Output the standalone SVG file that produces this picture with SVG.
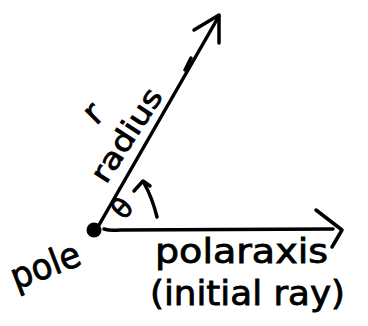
<svg xmlns="http://www.w3.org/2000/svg" width="368" height="326" viewBox="0 0 368 326">
<style>
.ln{fill:none;stroke:#000;stroke-width:3.5;stroke-linecap:round;stroke-linejoin:round}
.t{font-family:"DejaVu Sans",sans-serif;fill:#000;stroke:#000;stroke-width:0.8}
</style>
<rect width="368" height="326" fill="#fff"/>
<g id="pole">
<circle cx="94" cy="230" r="7.5" fill="#000"/>
<text class="t" font-size="36" transform="translate(16 290) rotate(-21)" textLength="72" lengthAdjust="spacingAndGlyphs">pole</text>
</g>
<g id="connectors">
<path class="ln" d="M99 225 L219 16"/>
<path class="ln" d="M194 30 L219 15 L219 43"/>
<path class="ln" stroke-width="7" d="M185 70 L191 58"/>
<path class="ln" d="M104 229 Q110 231 120 230 L333 229"/>
<path class="ln" d="M316 210 L342 230 L332 247"/>
<path class="ln" d="M157 217 Q152 197 144 183"/>
<path class="ln" d="M134 191 L143 181 L150 186"/>
</g>
<g id="labels">
<text class="t" font-size="29" transform="translate(106 185) rotate(-57)" textLength="106" lengthAdjust="spacingAndGlyphs">radius</text>
<text class="t" font-size="34" transform="translate(96 126) rotate(-45)">r</text>
<text class="t" font-size="28" transform="translate(124 221) rotate(-50)">θ</text>
<text class="t" font-size="33" x="155" y="263" textLength="173" lengthAdjust="spacingAndGlyphs">polaraxis</text>
<text class="t" font-size="33" x="150" y="305" textLength="195" lengthAdjust="spacingAndGlyphs">(initial ray)</text>
</g>
</svg>
